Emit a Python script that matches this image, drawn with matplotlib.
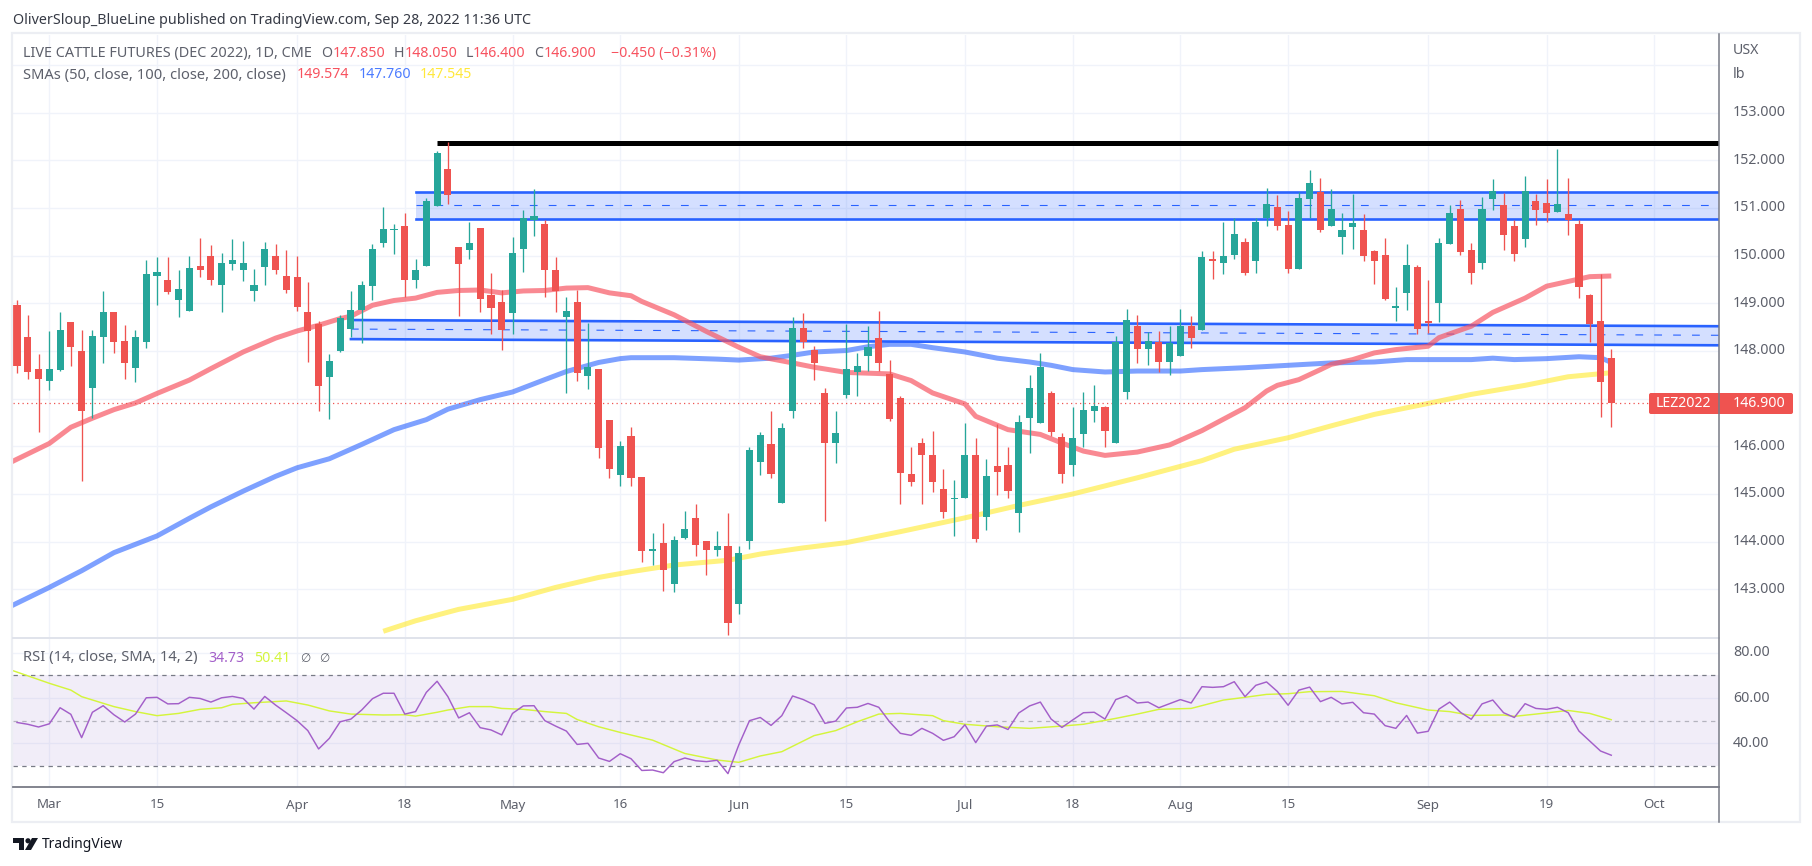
import matplotlib
matplotlib.use('Agg')
import matplotlib.pyplot as plt
from matplotlib.patches import FancyBboxPatch, Polygon, Circle, Rectangle

W, H = 1812, 866

opens = [148.96,148.29,147.62,147.37,147.60,148.60,148.00,147.22,148.29,148.81,
         148.20,147.64,148.18,149.58,149.50,149.06,148.83,149.79,150.00,149.38,
         149.82,149.71,149.25,149.77,150.00,149.58,149.56,148.81,148.56,147.45,
         148.01,148.47,148.85,149.37,150.27,150.54,150.63,149.50,149.79,151.05,
         151.82,150.19,150.12,150.59,149.18,149.02,148.79,150.15,150.75,150.67,
         149.71,148.72,149.02,147.47,147.63,146.56,145.39,146.21,145.35,143.80,
         143.97,143.11,144.07,144.49,144.01,143.82,143.91,142.69,144.01,145.68,
         146.04,144.81,146.75,148.48,148.02,147.12,146.06,147.08,147.56,147.90,
         148.28,147.52,147.02,145.43,146.06,145.81,145.10,144.89,144.91,145.81,
         144.51,145.58,145.60,144.61,146.60,146.50,147.12,146.20,145.60,146.25,
         146.75,146.83,146.06,147.15,148.53,148.05,148.19,147.77,147.90,148.53,
         148.45,149.94,149.85,150.02,150.29,149.89,150.79,151.02,150.65,149.73,
         151.19,151.34,150.63,150.40,150.61,150.54,150.10,150.02,148.91,149.22,
         149.77,148.62,149.00,150.25,150.98,150.12,149.85,151.19,151.07,150.63,
         150.36,151.15,151.11,150.92,150.88,150.67,149.18,148.62,147.85]
highs = [149.08,148.75,147.93,148.43,148.81,148.60,148.45,148.45,149.25,148.81,
         148.54,148.45,149.90,149.98,149.98,149.69,150.00,150.38,150.23,150.05,
         150.36,150.30,149.73,150.28,150.25,150.11,150.00,149.44,148.64,147.93,
         148.76,149.25,149.46,150.25,151.02,150.67,150.90,149.94,151.21,152.20,
         152.38,150.19,150.71,150.59,149.64,149.27,150.40,150.96,151.40,150.75,
         149.98,149.14,149.27,148.58,147.63,146.56,146.12,146.40,145.35,144.18,
         144.39,144.12,144.64,144.78,144.01,144.22,144.60,143.91,145.98,146.31,
         146.75,146.50,148.71,148.80,148.11,147.23,146.75,148.57,147.96,148.53,
         148.84,147.82,147.06,145.99,146.18,146.33,145.53,145.30,146.48,146.18,
         145.74,146.46,145.99,146.66,147.50,147.96,147.17,146.27,146.83,147.15,
         147.29,146.85,148.32,148.88,148.76,148.40,148.42,148.53,148.88,148.74,
         150.10,150.10,150.71,150.79,150.38,150.79,151.42,151.28,150.94,151.34,
         151.80,151.63,151.40,150.90,151.30,150.88,150.12,150.38,149.35,150.25,
         149.81,149.48,150.38,151.07,151.17,150.27,151.23,151.61,151.32,150.75,
         151.67,151.30,151.61,152.24,151.63,150.75,149.20,149.62,148.05]
lows = [147.53,147.41,146.30,147.18,147.58,147.68,145.28,146.59,147.74,147.95,
        147.41,147.35,148.06,148.96,149.19,148.71,148.83,149.56,149.38,148.81,
        149.69,149.46,149.04,149.38,149.61,149.21,148.83,147.76,146.74,146.57,
        147.97,148.30,148.16,149.08,150.19,150.04,149.14,149.33,149.79,151.05,
        151.09,148.74,149.94,148.81,148.35,148.03,148.35,149.66,150.42,149.14,
        148.81,147.11,147.38,147.20,145.75,145.33,145.16,145.16,143.57,143.51,
        142.96,142.94,144.05,143.70,143.30,143.70,142.04,142.48,143.84,145.39,
        145.33,144.81,146.60,148.07,147.40,144.43,145.66,147.02,147.06,147.58,
        147.58,146.54,144.80,145.16,144.78,145.05,144.49,144.11,144.91,143.99,
        144.24,144.97,144.91,144.20,145.87,146.50,146.22,145.24,145.37,145.99,
        146.52,145.99,146.06,147.00,147.75,147.71,147.56,147.50,147.90,148.07,
        148.45,149.52,149.62,149.94,149.60,149.64,150.63,150.54,149.64,149.73,
        150.79,150.50,150.63,150.04,150.15,149.89,149.41,149.06,148.62,148.87,
        148.35,148.37,148.60,150.25,150.02,149.41,149.73,150.96,150.12,149.89,
        150.19,150.65,150.71,150.92,150.44,149.12,148.18,146.61,146.40]
closes = [147.68,147.55,147.41,147.62,148.45,148.08,146.74,148.31,148.81,148.18,
          147.74,148.29,149.61,149.65,149.23,149.31,149.75,149.69,149.50,149.84,
          149.90,149.84,149.38,150.13,149.69,149.29,148.92,148.41,147.26,147.79,
          148.69,148.87,149.39,150.15,150.56,150.56,149.50,149.71,151.15,152.15,
          151.28,149.83,150.27,149.10,148.91,148.45,150.06,150.79,150.84,149.71,
          149.25,148.83,147.53,147.66,145.96,145.52,146.00,145.33,143.80,143.84,
          143.40,144.03,144.26,143.93,143.82,143.91,142.30,143.76,145.92,146.23,
          145.43,146.38,148.48,148.19,147.75,146.06,146.27,147.63,147.69,148.09,
          147.75,146.58,145.45,145.26,145.81,145.26,144.63,144.91,145.81,144.05,
          145.37,145.47,145.07,146.52,147.23,147.67,146.31,145.43,146.18,146.77,
          146.85,146.33,148.19,148.65,148.05,148.21,147.77,148.17,148.53,148.28,
          149.98,149.89,150.00,150.46,149.64,150.71,151.09,150.63,149.73,151.21,
          151.53,150.54,150.98,150.54,150.69,150.00,149.89,149.10,148.95,149.81,
          148.47,148.58,150.27,150.90,150.08,149.64,150.98,151.36,150.44,150.04,
          151.35,150.96,150.90,151.09,150.75,149.35,148.56,147.36,146.90]

sma50_bars = [-1,3,5,7,9,11,13,16,18,21,24,26,28,30,31,33,35,37,39,41,43,45,47,49,51,53,55,57,58,61,64,67,69,72,74,
              77,81,83,85,88,89,92,95,97,99,101,104,107,110,112,114,116,117,119,121,122,124,126,128,131,132,135,137,140,142,144,146,148]
sma50 = [145.62,146.06,146.40,146.59,146.77,146.91,147.11,147.39,147.63,147.98,148.27,148.42,148.54,148.68,148.73,148.96,149.06,149.11,149.23,149.27,149.28,149.22,149.26,149.27,149.32,149.33,149.22,149.16,149.04,148.76,148.41,148.08,147.88,147.75,147.66,
         147.55,147.52,147.38,147.12,146.89,146.63,146.35,146.25,146.07,145.90,145.81,145.88,146.03,146.33,146.57,146.81,147.16,147.28,147.40,147.61,147.72,147.82,147.96,148.03,148.10,148.28,148.52,148.81,149.11,149.36,149.46,149.56,149.574]
sma100_bars = [-1,3,6,9,13,16,18,21,24,26,29,32,35,38,40,43,46,49,51,54,56,57,61,65,67,70,72,74,77,79,81,83,85,88,91,94,96,98,101,104,108,110,114,118,122,126,129,135,137,139,142,145,147,148]
sma100 = [142.60,143.04,143.39,143.77,144.12,144.49,144.73,145.06,145.37,145.55,145.74,146.04,146.35,146.56,146.78,146.98,147.14,147.40,147.57,147.76,147.84,147.86,147.86,147.83,147.81,147.85,147.91,147.98,148.01,148.09,148.14,148.14,148.07,147.98,147.85,147.77,147.70,147.61,147.56,147.58,147.58,147.61,147.65,147.70,147.75,147.77,147.82,147.82,147.85,147.82,147.84,147.88,147.86,147.76]
sma200_bars = [34,37,41,46,50,54,57,61,66,69,73,77,82,88,93,98,104,110,113,118,122,126,131,135,140,144,148]
sma200 = [142.12,142.34,142.58,142.79,143.04,143.25,143.37,143.51,143.61,143.74,143.87,143.98,144.21,144.50,144.76,145.00,145.34,145.70,145.94,146.18,146.43,146.67,146.90,147.09,147.28,147.46,147.545]

rsi = [49.2,48.4,47.2,48.6,55.7,52.8,42.5,53.7,56.6,52.6,49.4,52.9,60.1,60.3,57.4,57.5,60.3,59.8,58.2,60.1,
       60.7,59.8,55.1,60.7,56.9,53.5,50.0,45.6,37.5,42.2,49.5,50.7,54.7,59.7,62.1,62.1,52.9,54.0,62.5,67.4,
       60.6,51.2,53.5,46.9,45.9,43.7,53.2,56.5,56.6,50.0,47.6,45.4,39.5,40.0,33.5,32.0,35.4,33.2,28.0,28.2,
       27.0,31.9,33.5,32.3,31.9,32.5,26.6,39.2,50.0,51.4,47.9,52.2,60.9,59.3,57.0,48.8,49.8,55.6,55.9,57.6,
       55.9,49.5,44.4,43.5,46.6,44.4,41.3,42.9,48.2,40.3,47.6,48.1,46.1,53.4,56.5,58.2,50.7,47.0,50.3,53.5,
       53.7,50.7,59.3,61.0,57.8,58.2,55.7,57.5,59.3,57.8,65.0,64.7,65.0,67.2,60.6,65.6,67.1,62.9,56.8,63.5,
       64.8,58.4,60.3,57.4,58.1,53.5,52.9,47.8,46.6,52.3,44.5,45.3,55.1,58.2,53.7,50.6,57.4,59.1,53.5,51.4,
       57.5,55.4,55.0,55.9,53.5,45.4,41.0,36.6,34.73]
rsi_ma_bars = [-1,3,5,6,9,11,13,15,17,19,20,22,25,27,29,31,34,36,37,39,40,42,44,45,47,49,51,52,54,56,59,62,65,67,69,71,74,76,78,80,82,
               85,86,88,91,94,97,99,102,104,106,109,112,114,116,118,120,123,126,128,131,133,135,138,139,141,144,146,148]
rsi_ma = [73.1,66.5,63.5,60.6,56.2,54.0,52.2,53.2,55.0,55.7,57.2,57.9,58.7,56.9,54.3,52.9,52.5,52.6,52.0,53.7,54.7,56.2,56.2,55.4,55.0,54.0,53.2,50.5,47.3,44.8,41.4,35.5,32.6,31.6,34.4,36.3,43.4,45.6,49.5,52.9,53.2,
          52.2,50.0,48.4,47.3,46.6,47.6,48.4,51.0,52.9,55.0,55.4,59.1,60.3,61.6,61.9,62.8,62.9,61.0,57.9,54.7,54.0,52.3,52.5,51.9,52.9,54.5,53.2,50.41]

# 147.000 sits behind the last price tag in the reference, so it gets no label
price_ticks = [143, 144, 145, 146, 148, 149, 150, 151, 152, 153]
rsi_ticks = [40, 60, 80]
time_bars = [3, 13, 26, 36, 46, 56, 67, 77, 88, 98, 108, 118, 131, 142, 152]
time_labels = ['Mar', '15', 'Apr', '18', 'May', '16', 'Jun', '15', 'Jul', '18', 'Aug', '15', 'Sep', '19', 'Oct']

resistance = 152.37
upper_band = [151.33, 151.06, 150.78]
lower_band_left = [148.65, 148.46, 148.25]
lower_band_right = [148.52, 148.33, 148.12]

GREEN = '#26a69a'
RED = '#ef5350'
BLUE = '#2962ff'
GRID = '#f0f3fa'
AXIS = '#787b86'
TEXT = '#5d606b'

plt.rcParams['font.family'] = ['Noto Sans', 'DejaVu Sans']

BAR_LEFT, BAR_RIGHT = -0.37, 158.0

def pixelAxes(fig, left, top, right, bottom):
    return fig.add_axes([left / W, 1 - bottom / H, (right - left) / W, (bottom - top) / H])

def cleanAxes(ax):
    ax.set_xlim(BAR_LEFT, BAR_RIGHT)
    ax.set_xticks([])
    ax.set_yticks([])
    for s in ax.spines.values():
        s.set_visible(False)
    ax.patch.set_alpha(0)

fig = plt.figure(figsize=(W / 100, H / 100), dpi=100, facecolor='white')

# price pane
ax = pixelAxes(fig, 13, 35, 1719, 637)
cleanAxes(ax)
ax.set_ylim(142.0, 154.63)
for b in time_bars:
    ax.axvline(b, color=GRID, lw=1, zorder=1)
for p in range(143, 155):
    ax.axhline(p, color=GRID, lw=1, zorder=1)

# blue zones and the black high line
ax.plot([39, BAR_RIGHT], [resistance, resistance], color='black', lw=3.6, solid_capstyle='butt', zorder=3)
ax.fill_between([37, BAR_RIGHT], upper_band[2], upper_band[0], color=BLUE, alpha=0.2, lw=0, zorder=2)
ax.plot([37, BAR_RIGHT], [upper_band[0]] * 2, color=BLUE, lw=1.9, zorder=3)
ax.plot([37, BAR_RIGHT], [upper_band[2]] * 2, color=BLUE, lw=1.9, zorder=3)
ax.plot([37, BAR_RIGHT], [upper_band[1]] * 2, color=BLUE, lw=0.8, dashes=(7, 10), zorder=3)
ax.fill_between([31, BAR_RIGHT], [lower_band_left[2], lower_band_right[2]],
                [lower_band_left[0], lower_band_right[0]], color=BLUE, alpha=0.2, lw=0, zorder=2)
ax.plot([31, BAR_RIGHT], [lower_band_left[0], lower_band_right[0]], color=BLUE, lw=1.9, zorder=3)
ax.plot([31, BAR_RIGHT], [lower_band_left[2], lower_band_right[2]], color=BLUE, lw=1.9, zorder=3)
ax.plot([31, BAR_RIGHT], [lower_band_left[1], lower_band_right[1]], color=BLUE, lw=0.8, dashes=(7, 10), zorder=3)

# moving averages
ax.plot(sma200_bars, sma200, color='#ffeb3b', alpha=0.65, lw=3.6, solid_capstyle='butt', zorder=4)
ax.plot(sma100_bars, sma100, color=BLUE, alpha=0.6, lw=3.6, solid_capstyle='butt', zorder=4)
ax.plot(sma50_bars, sma50, color='#f7525f', alpha=0.68, lw=3.6, solid_capstyle='butt', zorder=4)

# candles
bars = list(range(len(closes)))
colors = [GREEN if c >= o else RED for o, c in zip(opens, closes)]
ax.vlines(bars, lows, highs, colors=colors, lw=0.95, zorder=5)
ax.bar(bars, [max(c - o, 0.02) if c >= o else c - o for o, c in zip(opens, closes)], bottom=opens,
       width=0.66, color=colors, lw=0, zorder=6)
ax.axhline(closes[-1], color=RED, lw=0.9, dashes=(1, 2.6), zorder=5)

# RSI pane
ax2 = pixelAxes(fig, 13, 638, 1719, 787)
cleanAxes(ax2)
ax2.set_ylim(20.7, 86.5)
for b in time_bars:
    ax2.axvline(b, color=GRID, lw=1, zorder=1)
for v in rsi_ticks:
    ax2.axhline(v, color=GRID, lw=1, zorder=1)
ax2.axhspan(30, 70, color='#7e57c2', alpha=0.1, lw=0, zorder=2)
ax2.axhline(70, color=AXIS, lw=0.9, dashes=(3.5, 3.5), zorder=3)
ax2.axhline(50, color=AXIS, alpha=0.5, lw=0.9, dashes=(3.5, 3.5), zorder=3)
ax2.axhline(30, color=AXIS, lw=0.9, dashes=(3.5, 3.5), zorder=3)
ax2.plot(bars, rsi, color='#a35fc9', lw=1.05, zorder=5)
ax2.plot(rsi_ma_bars, rsi_ma, color='#d4f53c', lw=1.05, zorder=4)

# everything around the panes, placed in pixels
over = fig.add_axes([0, 0, 1, 1], zorder=10)
over.set_xlim(0, W)
over.set_ylim(H, 0)
over.axis('off')
over.patch.set_alpha(0)

def label(x, y, s, color=TEXT, size=10.2, **kw):
    over.text(x, y, s, color=color, fontsize=size, va='center', ha=kw.pop('ha', 'left'), **kw)

FRAME = '#eceef3'
over.add_patch(Rectangle((12, 33), 1788, 789, fill=False, ec=FRAME, lw=1.6))
over.plot([13, 1719], [637.5, 637.5], color='#e0e3eb', lw=1.4)
over.plot([13, 1719], [787, 787], color=AXIS, lw=1.3)
over.plot([1719, 1719], [34, 822], color=AXIS, lw=1.1)

label(13, 20, 'OliverSloup_BlueLine published on TradingView.com, Sep 28, 2022 11:36 UTC', '#363a45', 10.3)

label(23, 53.5, 'LIVE CATTLE FUTURES (DEC 2022), 1D, CME', TEXT, 10.4)
for x, s in [(321, 'O'), (394, 'H'), (466, 'L'), (534.5, 'C')]:
    label(x, 53.5, s)
for x, s in [(333, '147.850'), (404.5, '148.050'), (473, '146.400'), (544, '146.900'), (611, '\u22120.450 (\u22120.31%)')]:
    label(x, 53.5, s, '#f7525f')
label(23, 75, 'SMAs (50, close, 100, close, 200, close)', TEXT, 10.6)
label(296.5, 75, '149.574', '#f7525f')
label(358.5, 75, '147.760', '#4b7bff')
label(420, 75, '147.545', '#ffe83b')

label(23, 658, 'RSI (14, close, SMA, 14, 2)', TEXT, 10.6)
label(208, 658, '34.73', '#a35fc9')
label(254, 658, '50.41', '#d4f53c')
label(300, 658, '\u2205', TEXT, 8.5, family='DejaVu Sans')
label(319, 658, '\u2205', TEXT, 8.5, family='DejaVu Sans')

label(1733, 50, 'USX')
label(1733, 74, 'lb')
for p in price_ticks:
    label(1733, 160.3 + (152 - p) * 47.65, '%.3f' % p)
for v in rsi_ticks:
    label(1733, 652.7 + (80 - v) * 2.265, '%.2f' % v)

for b, s in zip(time_bars, time_labels):
    x = 49.3 + 10.773 * (b - 3)
    label(x, 805, s, TEXT, 9.6, ha='center', weight='bold' if s.isalpha() else 'normal')

# last price tag
over.add_patch(FancyBboxPatch((1651, 395), 140, 17, boxstyle='round,pad=2,rounding_size=2', fc=RED, ec='none'))
label(1656, 403.5, 'LEZ2022', 'white')
label(1733, 403.5, '146.900', 'white')

# footer logo
over.add_patch(Polygon([(13, 838), (24, 838), (24, 850), (19, 850), (19, 843), (13, 843)], fc='#131722', ec='none'))
over.add_patch(Circle((28, 840.8), 2.6, fc='#131722', ec='none'))
over.add_patch(Polygon([(32, 838), (38, 838), (31, 850), (25, 850)], fc='#131722', ec='none'))
label(42, 845, 'TradingView', '#131722', 10)

fig.savefig('out.png', dpi=100)
